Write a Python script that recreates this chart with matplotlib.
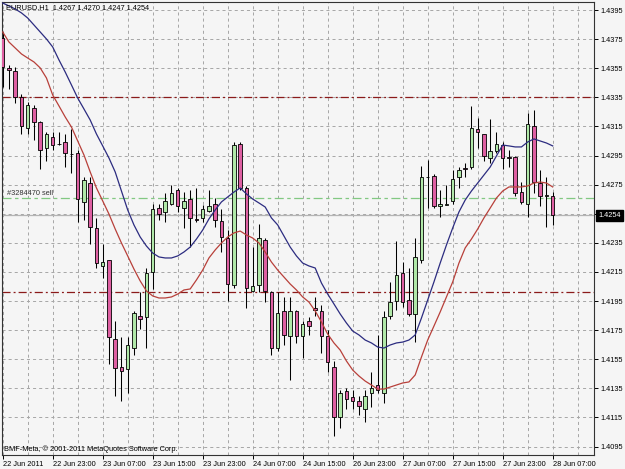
import numpy as np
import matplotlib
matplotlib.use("Agg")
import matplotlib.pyplot as plt

plt.rcParams['font.family'] = ['Liberation Sans', 'DejaVu Sans']
plt.rcParams['lines.scale_dashes'] = False

# EURUSD H1 bars, 22 Jun 15:00 .. 28 Jun 07:00
opens = [
    1.4376, 1.4355, 1.4353, 1.4335, 1.4314, 1.4328, 1.4318, 1.4300, 1.4308, 1.4303,
    1.4304, 1.4296, 1.4297, 1.4263, 1.4276, 1.4245, 1.4219, 1.4223, 1.4169, 1.4150,
    1.4148, 1.4163, 1.4185, 1.4184, 1.4215, 1.4259, 1.4256, 1.4262, 1.4271, 1.4259,
    1.4265, 1.4251, 1.4252, 1.4257, 1.4262, 1.4250, 1.4238, 1.4206, 1.4303, 1.4273,
    1.4202, 1.4206, 1.4237, 1.4201, 1.4163, 1.4188, 1.4171, 1.4188, 1.4171, 1.4181,
    1.4190, 1.4188, 1.4171, 1.4150, 1.4115, 1.4133, 1.4129, 1.4126, 1.4121, 1.4132,
    1.4137, 1.4132, 1.4185, 1.4195, 1.4214, 1.4196, 1.4186, 1.4223, 1.4280, 1.4281,
    1.4260, 1.4261, 1.4264, 1.4280, 1.4286, 1.4287, 1.4313, 1.4310, 1.4293, 1.4298,
    1.4302, 1.4294, 1.4294, 1.4270, 1.4262, 1.4315, 1.4276, 1.4267, 1.4267]
highs = [
    1.4380, 1.4357, 1.4356, 1.4337, 1.4332, 1.4330, 1.4319, 1.4311, 1.4311, 1.4311,
    1.4310, 1.4313, 1.4299, 1.4280, 1.4280, 1.4252, 1.4234, 1.4223, 1.4181, 1.4170,
    1.4170, 1.4188, 1.4201, 1.4218, 1.4262, 1.4262, 1.4269, 1.4275, 1.4273, 1.4270,
    1.4271, 1.4273, 1.4261, 1.4271, 1.4266, 1.4258, 1.4244, 1.4304, 1.4304, 1.4274,
    1.4232, 1.4248, 1.4238, 1.4202, 1.4201, 1.4198, 1.4198, 1.4189, 1.4181, 1.4184,
    1.4198, 1.4192, 1.4175, 1.4154, 1.4134, 1.4135, 1.4134, 1.4130, 1.4134, 1.4146,
    1.4172, 1.4188, 1.4208, 1.4236, 1.4222, 1.4218, 1.4238, 1.4288, 1.4292, 1.4282,
    1.4271, 1.4275, 1.4285, 1.4287, 1.4290, 1.4329, 1.4321, 1.4310, 1.4320, 1.4311,
    1.4304, 1.4299, 1.4295, 1.4277, 1.4324, 1.4326, 1.4285, 1.4280, 1.4270]
lows = [
    1.4342, 1.4341, 1.4331, 1.4310, 1.4310, 1.4306, 1.4286, 1.4291, 1.4299, 1.4302,
    1.4287, 1.4283, 1.4249, 1.4251, 1.4234, 1.4218, 1.4211, 1.4152, 1.4130, 1.4126,
    1.4132, 1.4158, 1.4176, 1.4163, 1.4203, 1.4251, 1.4249, 1.4261, 1.4256, 1.4245,
    1.4232, 1.4249, 1.4249, 1.4256, 1.4246, 1.4229, 1.4195, 1.4204, 1.4271, 1.4190,
    1.4201, 1.4201, 1.4194, 1.4158, 1.4161, 1.4165, 1.4141, 1.4166, 1.4156, 1.4172,
    1.4185, 1.4159, 1.4146, 1.4102, 1.4108, 1.4121, 1.4121, 1.4117, 1.4112, 1.4122,
    1.4132, 1.4125, 1.4183, 1.4189, 1.4191, 1.4185, 1.4167, 1.4221, 1.4259, 1.4259,
    1.4253, 1.4261, 1.4262, 1.4273, 1.4280, 1.4286, 1.4300, 1.4291, 1.4290, 1.4297,
    1.4286, 1.4287, 1.4267, 1.4262, 1.4253, 1.4269, 1.4260, 1.4246, 1.4247]
closes = [
    1.4356, 1.4354, 1.4335, 1.4315, 1.4330, 1.4318, 1.4299, 1.4310, 1.4302, 1.4303,
    1.4297, 1.4296, 1.4265, 1.4278, 1.4246, 1.4221, 1.4222, 1.4170, 1.4149, 1.4147,
    1.4165, 1.4187, 1.4183, 1.4214, 1.4258, 1.4255, 1.4264, 1.4269, 1.4260, 1.4264,
    1.4252, 1.4251, 1.4258, 1.4260, 1.4251, 1.4239, 1.4207, 1.4302, 1.4273, 1.4204,
    1.4205, 1.4238, 1.4202, 1.4163, 1.4187, 1.4172, 1.4188, 1.4171, 1.4179, 1.4178,
    1.4189, 1.4171, 1.4153, 1.4115, 1.4132, 1.4128, 1.4126, 1.4123, 1.4130, 1.4135,
    1.4134, 1.4184, 1.4194, 1.4213, 1.4194, 1.4186, 1.4225, 1.4280, 1.4280, 1.4260,
    1.4262, 1.4262, 1.4279, 1.4285, 1.4286, 1.4314, 1.4311, 1.4295, 1.4298, 1.4303,
    1.4293, 1.4293, 1.4269, 1.4263, 1.4317, 1.4277, 1.4267, 1.4268, 1.4254]

# moving averages
ma_slow = [
    1.43998, 1.43978, 1.43957, 1.43930, 1.43895, 1.43847, 1.43799, 1.43751, 1.43696, 1.43607,
    1.43524, 1.43435, 1.43345, 1.43270, 1.43194, 1.43098, 1.43016, 1.42933, 1.42837, 1.42706,
    1.42576, 1.42473, 1.42390, 1.42328, 1.42280, 1.42253, 1.42246, 1.42246, 1.42260, 1.42287,
    1.42321, 1.42376, 1.42438, 1.42514, 1.42576, 1.42631, 1.42665, 1.42699, 1.42727, 1.42686,
    1.42651, 1.42624, 1.42596, 1.42521, 1.42473, 1.42397, 1.42321, 1.42260, 1.42211, 1.42191,
    1.42177, 1.42074, 1.41998, 1.41930, 1.41861, 1.41799, 1.41744, 1.41717, 1.41682, 1.41662,
    1.41634, 1.41627, 1.41648, 1.41662, 1.41668, 1.41682, 1.41717, 1.41833, 1.41957, 1.42081,
    1.42211, 1.42335, 1.42452, 1.42562, 1.42644, 1.42706, 1.42761, 1.42816, 1.42871, 1.42947,
    1.43022, 1.43016, 1.43009, 1.43009, 1.43043, 1.43064, 1.43050, 1.43036, 1.43016]
ma_fast = [
    1.43799, 1.43730, 1.43689, 1.43648, 1.43620, 1.43593, 1.43552, 1.43483, 1.43366, 1.43291,
    1.43215, 1.43146, 1.43050, 1.42954, 1.42837, 1.42727, 1.42638, 1.42548, 1.42445, 1.42349,
    1.42260, 1.42170, 1.42088, 1.42019, 1.41985, 1.41971, 1.41971, 1.41978, 1.41998, 1.42026,
    1.42033, 1.42095, 1.42163, 1.42246, 1.42301, 1.42349, 1.42390, 1.42418, 1.42431, 1.42404,
    1.42383, 1.42349, 1.42287, 1.42218, 1.42163, 1.42115, 1.42067, 1.42026, 1.41978, 1.41943,
    1.41882, 1.41806, 1.41723, 1.41662, 1.41613, 1.41538, 1.41476, 1.41435, 1.41400, 1.41373,
    1.41345, 1.41345, 1.41359, 1.41373, 1.41387, 1.41394, 1.41442, 1.41565, 1.41682, 1.41778,
    1.41875, 1.41978, 1.42081, 1.42211, 1.42315, 1.42376, 1.42445, 1.42521, 1.42589, 1.42658,
    1.42706, 1.42734, 1.42734, 1.42734, 1.42741, 1.42761, 1.42768, 1.42761, 1.42734]

time_labels = ['22 Jun 2011', '22 Jun 23:00', '23 Jun 07:00', '23 Jun 15:00',
               '23 Jun 23:00', '24 Jun 07:00', '24 Jun 15:00', '26 Jun 23:00',
               '27 Jun 07:00', '27 Jun 15:00', '27 Jun 23:00', '28 Jun 07:00']
price_ticks = [1.4095, 1.4115, 1.4135, 1.4155, 1.4175, 1.4195, 1.4215, 1.4235,
               1.4255, 1.4275, 1.4295, 1.4315, 1.4335, 1.4355, 1.4375, 1.4395]
red_levels = [1.4335, 1.4201]
order_level = 1.4266
last_price = 1.4254

bg = '#f5f5f5'
o = np.array(opens); h = np.array(highs); l = np.array(lows); c = np.array(closes)
x = np.arange(len(o))

fig = plt.figure(figsize=(6.25, 4.69), dpi=100, facecolor=bg)
ax = fig.add_axes([2/625, 14/469, 592/625, 453/469], facecolor=bg)

# dashed grid: vertical every 4 bars, horizontal at each price step
for k in range(0, 96, 4):
    ax.axvline(k, color='#a6a6a6', lw=0.7, ls=(0, (2.2, 2.2)), zorder=0)
for p in price_ticks:
    ax.axhline(p, color='#a6a6a6', lw=0.7, ls=(0, (2.2, 2.2)), zorder=0)

# horizontal objects
for lv in red_levels:
    ax.axhline(lv, color='#8b1a1a', lw=0.9, ls=(0, (5.8, 2.2, 1.4, 2.2)), zorder=1)
ax.axhline(order_level, color='#82c882', lw=0.9, ls=(0, (6.5, 2.5, 2.5, 2.5)), zorder=1)
ax.axhline(last_price, color='#b4b4b4', lw=0.9, zorder=1)

# candles
fills = np.where(c > o, '#b0e8a8', '#de5fa2')
ax.vlines(x, l, h, color='black', lw=0.75, zorder=3)
ax.bar(x, np.maximum(np.abs(c - o), 0.00001), width=0.55, bottom=np.minimum(o, c),
       color=fills, edgecolor='black', linewidth=0.6, zorder=4)

# moving averages
ax.plot(x, ma_slow, color='#2c2c80', lw=0.9, zorder=5)
ax.plot(x, ma_fast, color='#b8403a', lw=0.9, zorder=5)

ax.set_xlim(-0.112, 94.61)
ax.set_ylim(1.40892, 1.44005)

# price scale on the right; the 1.4255 step is hidden under the last-price box
ax.yaxis.tick_right()
ax.set_yticks(price_ticks)
ax.set_yticklabels(['' if p == 1.4255 else '%.4f' % p for p in price_ticks])
ax.tick_params(axis='y', direction='out', length=3, width=0.7, pad=1.5, labelsize=5.3)
ax.set_xticks(range(0, 89, 8))
ax.set_xticklabels(time_labels, ha='left')
ax.tick_params(axis='x', direction='out', length=3, width=0.7, pad=1.5, labelsize=5.3)
for s in ax.spines.values():
    s.set_color('#333333')
    s.set_linewidth(0.8)

ax.annotate('%.4f' % last_price, xy=(1, last_price), xycoords=('axes fraction', 'data'),
            xytext=(3, 0), textcoords='offset points', va='center', ha='left',
            fontsize=5.3, color='white', annotation_clip=False, zorder=10,
            bbox=dict(boxstyle='square,pad=0.25', fc='black', ec='black'))

fig.text(6/625, 1 - 8/469, 'EURUSD,H1  1.4267 1.4270 1.4247 1.4254', fontsize=5.3,
         va='center', ha='left', color='black')
fig.text(7/625, 1 - 193/469, '#3284470 sell', fontsize=5.3, va='center', ha='left',
         color='#333333')
fig.text(4/625, 1 - 449/469, 'BMF-Meta, \u00a9 2001-2011 MetaQuotes Software Corp.',
         fontsize=5.3, va='center', ha='left', color='black')

fig.savefig('out.png', dpi=100, facecolor=bg)
